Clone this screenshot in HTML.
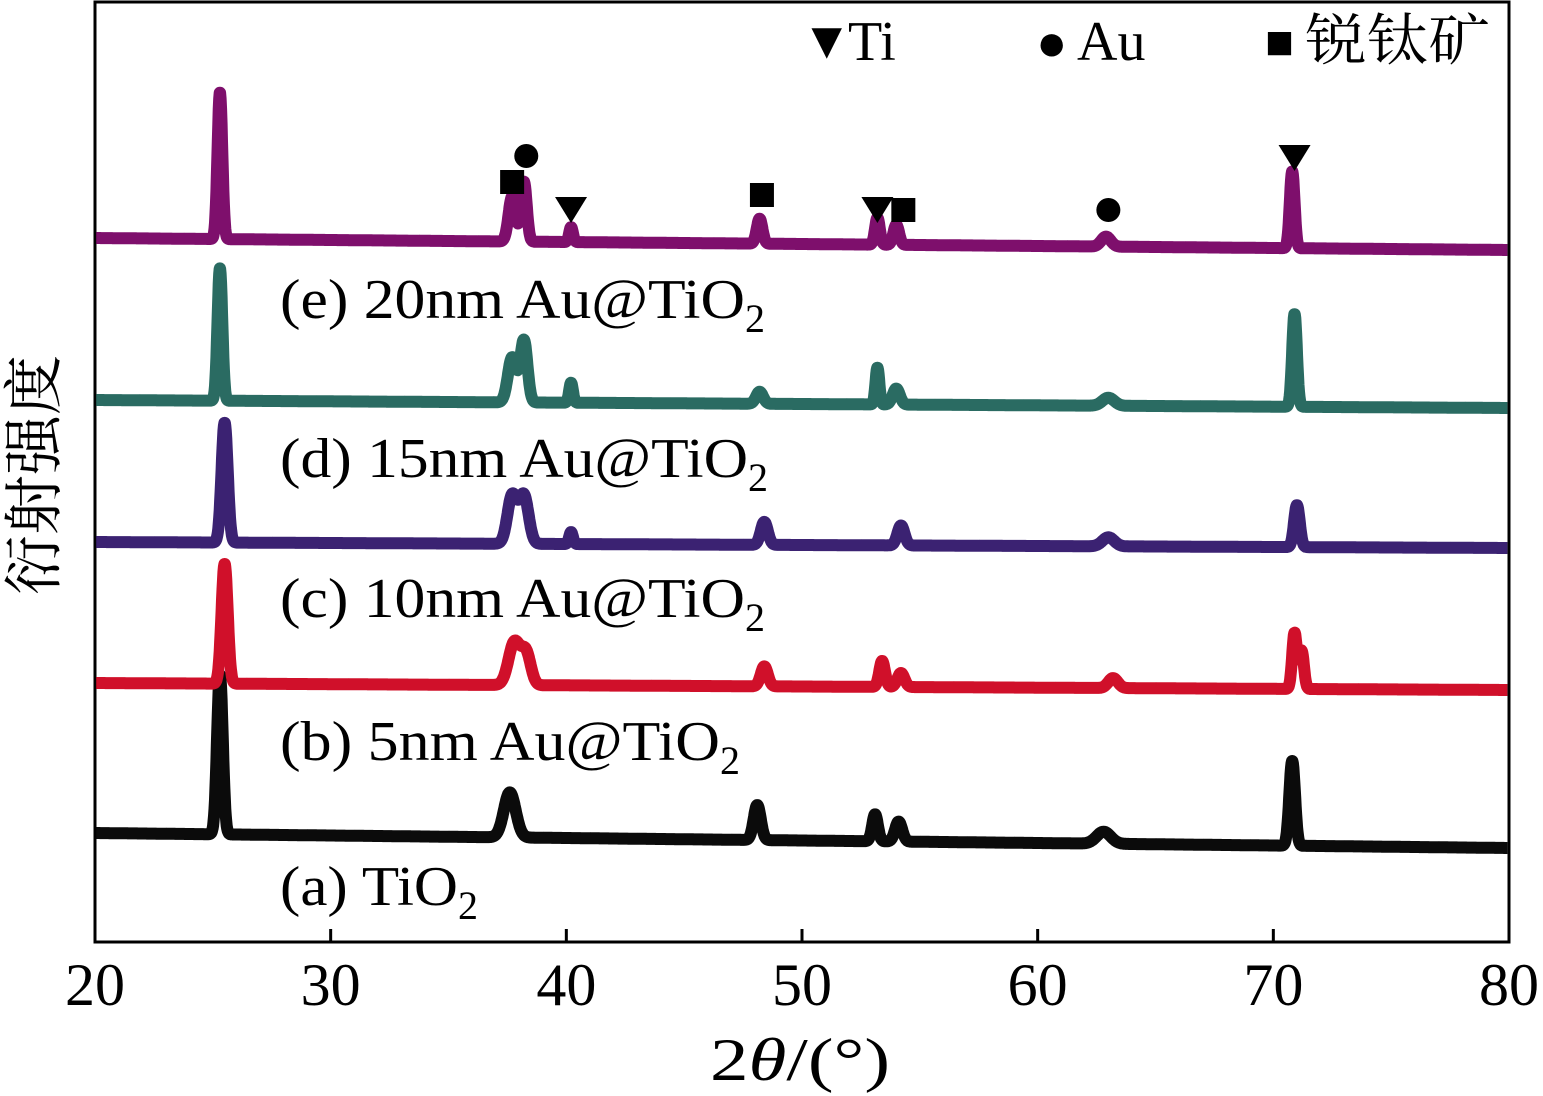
<!DOCTYPE html>
<html><head><meta charset="utf-8"><style>
body{margin:0;background:#fff;}
svg{display:block;font-family:"Liberation Serif","Noto Serif CJK SC",serif;}
</style></head><body>
<svg id="c" width="1543" height="1096">
<rect x="95" y="2" width="1414" height="940" fill="none" stroke="#000" stroke-width="3"/>
<g id="ticks"></g><g id="series"></g><g id="marks"></g>
<text x="710" y="1080" font-size="60" textLength="180" lengthAdjust="spacingAndGlyphs">2<tspan font-style="italic">θ</tspan>/(°)</text>
<text transform="translate(55,475) rotate(-90)" font-size="60" text-anchor="middle" font-family="Noto Serif CJK SC, serif">衍射强度</text>
<g font-size="56">
<text x="801" y="58" font-size="52">▼</text>
<text x="848" y="60">Ti</text>
<text x="1036" y="60" font-size="52">●</text>
<text x="1077" y="60">Au</text>
<text x="1265" y="58" font-size="48">■</text>
<text x="1305" y="60" textLength="185" lengthAdjust="spacingAndGlyphs" font-family="Noto Serif CJK SC, serif">锐钛矿</text>
</g>
<g font-size="56">
<text x="280" y="318"><tspan textLength="465" lengthAdjust="spacingAndGlyphs">(e) 20nm Au@TiO</tspan><tspan dy="14" font-size="40">2</tspan></text>
<text x="280" y="477"><tspan textLength="468" lengthAdjust="spacingAndGlyphs">(d) 15nm Au@TiO</tspan><tspan dy="14" font-size="40">2</tspan></text>
<text x="280" y="617"><tspan textLength="465" lengthAdjust="spacingAndGlyphs">(c) 10nm Au@TiO</tspan><tspan dy="14" font-size="40">2</tspan></text>
<text x="280" y="760"><tspan textLength="440" lengthAdjust="spacingAndGlyphs">(b) 5nm Au@TiO</tspan><tspan dy="14" font-size="40">2</tspan></text>
<text x="280" y="905"><tspan textLength="178" lengthAdjust="spacingAndGlyphs">(a) TiO</tspan><tspan dy="14" font-size="40">2</tspan></text>
</g>
</svg>
<script>
const xTicks=[20,30,40,50,60,70,80];
const seriesNames=['a','b','c','d','e'];
const seriesColors=['#0b0b0b','#d0102a','#3b2272','#2a6b62','#7e0f6c'];
const baseStart=[833,683,542,400,238];
const baseEnd=[848,690,548,408,250];
const peaksA=[[25.3,160,0.12],[37.6,45,0.25],[48.1,35,0.15],[53.1,27,0.12],[54.1,20,0.15],[62.8,12,0.3],[70.8,85,0.12]];
const peaksB=[[25.5,120,0.13],[37.8,43,0.25],[38.3,30,0.2],[48.4,20,0.15],[53.4,26,0.12],[54.2,14,0.15],[63.2,10,0.2],[70.9,56,0.1],[71.2,38,0.1]];
const peaksC=[[25.5,120,0.13],[37.7,48,0.2],[38.2,48,0.2],[40.2,12,0.08],[48.4,23,0.15],[54.2,20,0.15],[63.0,9,0.25],[71.0,42,0.12]];
const peaksD=[[25.3,133,0.1],[37.7,45,0.18],[38.2,62,0.15],[40.2,20,0.08],[48.2,12,0.15],[53.2,37,0.08],[54.0,16,0.15],[63.0,8,0.25],[70.9,93,0.1]];
const peaksE=[[25.3,147,0.1],[37.7,45,0.15],[38.2,60,0.12],[40.2,15,0.08],[48.2,25,0.12],[53.2,27,0.1],[54.0,20,0.12],[62.9,10,0.2],[70.8,77,0.1]];
const allPeaks=[peaksA,peaksB,peaksC,peaksD,peaksE];
const markerType=['sq','ci','tri','sq','tri','sq','ci','tri'];
const markerAngle=[37.7,38.3,40.2,48.3,53.2,54.3,63.0,70.9];
const markerY=[182,156,210,195,210,210,210,158];
const ns='http://www.w3.org/2000/svg';
const X0=95,X1=1509;
const xs=v=>X0+(v-20)/60*(X1-X0);
const tg=document.getElementById('ticks');
xTicks.forEach(t=>{
 const l=document.createElementNS(ns,'line');
 l.setAttribute('x1',xs(t));l.setAttribute('x2',xs(t));l.setAttribute('y1',942);l.setAttribute('y2',t>20&&t<80?929:942);
 l.setAttribute('stroke','#000');l.setAttribute('stroke-width',3);
 
 
 tg.appendChild(l);
 const tx=document.createElementNS(ns,'text');
 tx.setAttribute('x',xs(t));tx.setAttribute('y',1005);tx.setAttribute('font-size',60);tx.setAttribute('text-anchor','middle');
 tx.textContent=t;
 
 
 tg.appendChild(tx);
});
const sg=document.getElementById('series');
allPeaks.forEach((pk,i)=>{
 let d='';
 for(let a=20.05;a<=79.95;a+=0.02){
  let base=baseStart[i]+(baseEnd[i]-baseStart[i])*(a-20)/60;
  let v=0;pk.forEach(p=>{v+=p[1]*Math.exp(-Math.pow((a-p[0])/p[2],2)/2);});
  d+=(d?'L':'M')+xs(a).toFixed(1)+','+(base-v).toFixed(1);
 }
 const p=document.createElementNS(ns,'path');
 p.setAttribute('d',d);p.setAttribute('fill','none');p.setAttribute('stroke',seriesColors[i]);
 p.setAttribute('stroke-width',12);p.setAttribute('stroke-linejoin','round');
 
 
 sg.appendChild(p);
});
const mg=document.getElementById('marks');
markerType.forEach((t,i)=>{
 const x=xs(markerAngle[i]),y=markerY[i];let e;
 if(t==='sq'){e=document.createElementNS(ns,'rect');e.setAttribute('x',x-12);e.setAttribute('y',y-12);e.setAttribute('width',24);e.setAttribute('height',24);}
 else if(t==='ci'){e=document.createElementNS(ns,'circle');e.setAttribute('cx',x);e.setAttribute('cy',y);e.setAttribute('r',12);}
 else{e=document.createElementNS(ns,'polygon');e.setAttribute('points',`${x-16},${y-13} ${x+16},${y-13} ${x},${y+13}`);}
 e.setAttribute('fill','#000');
 
 
 mg.appendChild(e);
});
</script>
</body></html>
